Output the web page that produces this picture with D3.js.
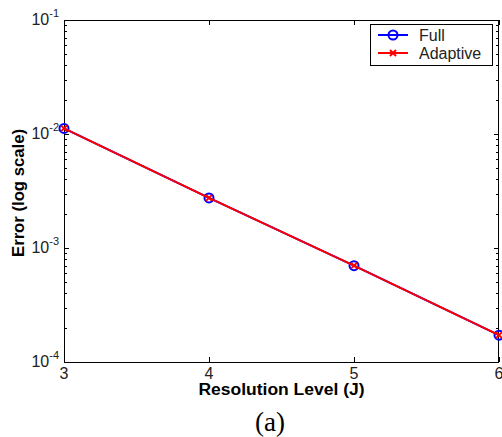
<!DOCTYPE html>
<html>
<head>
<meta charset="utf-8">
<script src="https://cdn.jsdelivr.net/npm/d3@7"></script>
<style>
  body { margin: 0; background: #fff; }
  text { font-family: "Liberation Sans", Arial, sans-serif; }
</style>
</head>
<body>
<div id="chart"></div>
<script>
// data
const levels = [3, 4, 5, 6];
const fullError = [0.0112, 0.00275, 0.00070, 0.000172];
const adaptiveError = [0.0112, 0.00275, 0.00070, 0.000172];
const xTicks = [3, 4, 5, 6];
const yDecades = [-4, -3, -2, -1];

const width = 502, height = 437;
const margin = { left: 64, right: 3, top: 20, bottom: 75 };

const svg = d3.select('#chart').append('svg')
    .attr('width', width)
    .attr('height', height);

const x = d3.scaleLinear().domain([3, 6]).range([margin.left, width - margin.right]);
const y = d3.scaleLog().domain([1e-4, 1e-1]).range([height - margin.bottom, margin.top]);

const x0 = x.range()[0], x1 = x.range()[1];
const y0 = y.range()[0], y1 = y.range()[1];

// minor + major ticks on all four sides (inward)
const minorVals = [];
yDecades.slice(0, 3).forEach(d => {
    for (let k = 2; k <= 9; k++) minorVals.push(k * Math.pow(10, d));
});
const ticks = svg.append('g').attr('stroke', '#000').attr('stroke-width', 1);
minorVals.forEach(v => {
    const yy = Math.round(y(v)) + 0.5;
    ticks.append('line').attr('x1', x0).attr('x2', x0 + 3).attr('y1', yy).attr('y2', yy);
    ticks.append('line').attr('x1', x1).attr('x2', x1 - 3).attr('y1', yy).attr('y2', yy);
});
yDecades.forEach(d => {
    const yy = Math.round(y(Math.pow(10, d))) + 0.5;
    ticks.append('line').attr('x1', x0).attr('x2', x0 + 5).attr('y1', yy).attr('y2', yy);
    ticks.append('line').attr('x1', x1).attr('x2', x1 - 5).attr('y1', yy).attr('y2', yy);
});
xTicks.forEach(t => {
    const xx = Math.round(x(t)) + 0.5;
    ticks.append('line').attr('x1', xx).attr('x2', xx).attr('y1', y0).attr('y2', y0 - 5);
    ticks.append('line').attr('x1', xx).attr('x2', xx).attr('y1', y1).attr('y2', y1 + 5);
});

// box
svg.append('rect')
    .attr('x', x0 + 0.5).attr('y', y1 + 0.5)
    .attr('width', x1 - x0 - 1).attr('height', y0 - y1)
    .attr('fill', 'none').attr('stroke', '#000').attr('stroke-width', 1);

// y tick labels 10^n
yDecades.forEach(d => {
    const t = svg.append('text')
        .attr('x', x0 - 5)
        .attr('y', y(Math.pow(10, d)) + 5)
        .attr('text-anchor', 'end')
        .attr('font-size', 16)
        .attr('fill', '#222');
    t.append('tspan').text('10');
    t.append('tspan').attr('font-size', 11).attr('dy', -8).text(d);
});

// x tick labels
xTicks.forEach(t => {
    svg.append('text')
        .attr('x', x(t))
        .attr('y', y0 + 17)
        .attr('text-anchor', 'middle')
        .attr('font-size', 16)
        .attr('fill', '#222')
        .text(t);
});

// axis titles
svg.append('text')
    .attr('x', (x0 + x1) / 2)
    .attr('y', y0 + 33)
    .attr('text-anchor', 'middle')
    .attr('font-size', 16)
    .attr('font-weight', 'bold')
    .attr('textLength', 166)
    .attr('lengthAdjust', 'spacingAndGlyphs')
    .text('Resolution Level (J)');

svg.append('text')
    .attr('transform', `translate(24,${(y0 + y1) / 2 + 2}) rotate(-90)`)
    .attr('text-anchor', 'middle')
    .attr('font-size', 16)
    .attr('font-weight', 'bold')
    .attr('textLength', 128)
    .attr('lengthAdjust', 'spacingAndGlyphs')
    .text('Error (log scale)');

svg.append('text')
    .attr('x', 270)
    .attr('y', 431)
    .attr('text-anchor', 'middle')
    .attr('font-size', 27)
    .style('font-family', '"Liberation Serif", "Times New Roman", serif')
    .text('(a)');

// series
const line = d3.line().x((d, i) => x(levels[i])).y(d => y(d));

svg.append('path').datum(fullError)
    .attr('d', line).attr('fill', 'none')
    .attr('stroke', '#0000ff').attr('stroke-width', 2);

svg.append('g').selectAll('circle')
    .data(fullError).enter().append('circle')
    .attr('cx', (d, i) => x(levels[i]))
    .attr('cy', d => y(d))
    .attr('r', 4.5)
    .attr('fill', 'none').attr('stroke', '#0000ff').attr('stroke-width', 2);

svg.append('path').datum(adaptiveError)
    .attr('d', line).attr('fill', 'none')
    .attr('stroke', '#ff0000').attr('stroke-width', 2);

function cross(g, cx, cy, s) {
    g.append('path')
        .attr('d', `M${cx - s},${cy - s}L${cx + s},${cy + s}M${cx - s},${cy + s}L${cx + s},${cy - s}`)
        .attr('stroke', '#ff0000').attr('stroke-width', 2).attr('fill', 'none');
}
const crosses = svg.append('g');
adaptiveError.forEach((d, i) => cross(crosses, x(levels[i]), y(d), 3));

// legend
const lg = svg.append('g');
lg.append('rect')
    .attr('x', 370.5).attr('y', 24.5).attr('width', 122).attr('height', 41)
    .attr('fill', '#fff').attr('stroke', '#000').attr('stroke-width', 1);
lg.append('line').attr('x1', 378).attr('x2', 408).attr('y1', 35).attr('y2', 35)
    .attr('stroke', '#0000ff').attr('stroke-width', 2);
lg.append('circle').attr('cx', 393).attr('cy', 35).attr('r', 4.5)
    .attr('fill', 'none').attr('stroke', '#0000ff').attr('stroke-width', 2);
lg.append('line').attr('x1', 378).attr('x2', 408).attr('y1', 53).attr('y2', 53)
    .attr('stroke', '#ff0000').attr('stroke-width', 2);
cross(lg, 393, 53, 3);
lg.append('text').attr('x', 419).attr('y', 41).attr('font-size', 16).attr('fill', '#222').text('Full');
lg.append('text').attr('x', 419).attr('y', 59).attr('font-size', 16).attr('fill', '#222').text('Adaptive');
</script>
</body>
</html>
